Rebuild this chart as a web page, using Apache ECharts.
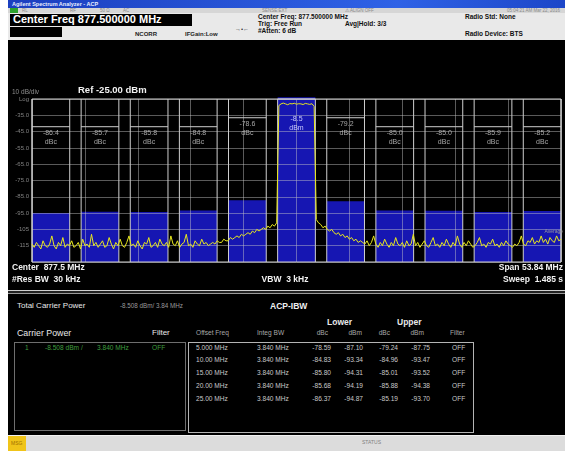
<!DOCTYPE html>
<html>
<head>
<meta charset="utf-8">
<script src="https://cdn.jsdelivr.net/npm/echarts@6/dist/echarts.min.js"></script>
<style>
  body { margin: 0; width: 565px; height: 451px; background: #fff; overflow: hidden; position: relative;
         font-family: "Liberation Sans", Arial, sans-serif; }
  .a { position: absolute; white-space: nowrap; line-height: 1; }
  #title { left: 8px; top: 0; width: 557px; height: 8px; background: linear-gradient(90deg, #1b3fbf, #2f62e6 70%, #1c46c8); }
  #stat { left: 8px; top: 8px; width: 557px; height: 5px; background: #d6d6d6; }
  #head { left: 8px; top: 13px; width: 557px; height: 27px; background: #e9e9e9; border-bottom: 1px solid #555; }
  #spec { left: 8px; top: 40px; width: 557px; height: 250px; background: #000; }
  #sep { left: 8px; top: 290px; width: 557px; height: 2px; border-top: 1px solid #cfcfcf; border-bottom: 1px solid #9a9a9a; background: #222; }
  #low { left: 8px; top: 294px; width: 557px; height: 141px; background: #000; }
  #bar { left: 8px; top: 435px; width: 557px; height: 16px; background: #dcdcdc; border-top: 1px solid #f2f2f2; }
</style>
</head>
<body>
<div id="title" class="a"></div>
<div id="stat" class="a"></div>
<div id="head" class="a"></div>
<div id="spec" class="a"></div>
<div id="sep" class="a"></div>
<div id="low" class="a"></div>
<div id="bar" class="a"></div>
<div id="txt"></div>
<script>
// ── readings ──────────────────────────────────────────────────────────
const SPAN = 53.84;                 // MHz, centre 877.5
const INTEG_BW = 3.84;              // MHz
const chanOffsets = [-25, -20, -15, -10, -5, 0, 5, 10, 15, 20, 25];
const chanPower   = [-94.87, -94.19, -94.31, -93.34, -87.10, -8.508, -87.75, -93.47, -93.52, -94.38, -93.70];
const chanLimit   = [-42, -42, -42, -42, -36.5, -25, -36.5, -42, -42, -42, -42];
const chanLabel   = ["-86.4", "-85.7", "-85.8", "-84.8", "-78.6", "-8.5", "-79.2", "-85.0", "-85.0", "-85.9", "-85.2"];
const chanUnit    = ["dBc", "dBc", "dBc", "dBc", "dBc", "dBm", "dBc", "dBc", "dBc", "dBc", "dBc"];

// yellow trace, dBm, one sample per sweep step from left edge to right edge
const traceDbm = [
  -114,-116,-113,-115,-117,-112,-115,-116,-114,-109,-115,-117,-113,-115,-110,-116,-114,-115,-112,-116,-115,
  -113,-117,-111,-115,-114,-116,-108,-115,-113,-116,-114,-112,-116,-115,-110,-114,-117,-113,-115,-111,
  -115,-116,-113,-109,-115,-114,-116,-112,-115,-117,-113,-114,-110,-116,-115,-113,-116,-111,-114,-115,
  -113,-116,-109,-114,-115,-112,-116,-114,-113,-108,-115,-114,-116,-112,-114,-115,-111,-114,-113,-115,
  -114,-113,-114,-112,-113,-113,-111,-112,-112,-110,-111,-110,-109,-110,-108,-109,-108,-107,-108,-106,
  -107,-105,-106,-105,-104,-105,-103,-104,-102,-103,-101,
  -29,-28,-27.5,-28,-28.5,-27.8,-28,-27.6,-28.2,-27.9,-28,-28.4,-27.7,-28,-28.3,-27.9,-29.5,
  -99,-101,-102,-104,-103,-105,-106,-105,-107,-108,-107,-109,-108,-110,-109,-111,-110,-112,-111,-113,-112,-113,
  -114,-112,-115,-113,-109,-114,-116,-113,-115,-111,-114,-116,-113,-115,-110,-114,-115,-113,-116,-112,
  -115,-114,-108,-115,-113,-116,-114,-112,-115,-116,-113,-110,-115,-114,-116,-113,-115,-111,-114,-116,
  -113,-115,-109,-114,-116,-113,-115,-112,-114,-116,-115,-113,-110,-115,-114,-116,-113,-114,-111,-115,
  -114,-116,-113,-115,-112,-114,-115,-116,-114,-115,-113,-109,-114,-115,-112,-113,-110,-114,-112,-113,
  -109,-113,-111,-114,-110,-112,-113,-109,-112,-111
];

// ACP table
const offsetFreq = ["5.000 MHz", "10.00 MHz", "15.00 MHz", "20.00 MHz", "25.00 MHz"];
const integBw    = ["3.840 MHz", "3.840 MHz", "3.840 MHz", "3.840 MHz", "3.840 MHz"];
const lowerDbc   = ["-78.59", "-84.83", "-85.80", "-85.68", "-86.37"];
const lowerDbm   = ["-87.10", "-93.34", "-94.31", "-94.19", "-94.87"];
const upperDbc   = ["-79.24", "-84.96", "-85.01", "-85.88", "-85.19"];
const upperDbm   = ["-87.75", "-93.47", "-93.52", "-94.38", "-93.70"];
const filterCol  = ["OFF", "OFF", "OFF", "OFF", "OFF"];

// ── text layer ────────────────────────────────────────────────────────
const host = document.getElementById("txt");
function put(txt, x, y, size, color, opt = {}) {
  const d = document.createElement("div");
  d.className = "a";
  d.textContent = txt;
  d.style.top = y + "px";
  d.style.fontSize = size + "px";
  d.style.color = color;
  if (opt.bold) d.style.fontWeight = "bold";
  if (opt.right) d.style.right = (565 - x) + "px"; else d.style.left = x + "px";
  if (opt.bg) { d.style.background = opt.bg; d.style.padding = opt.pad || "0"; }
  host.appendChild(d);
  return d;
}

// window title + status strip
put("Agilent Spectrum Analyzer - ACP", 12, 1.5, 5.5, "#e8eeff", { bold: true });
put("", 10, 8, 5, "#fff", { bg: "#2ea12e", pad: "2.5px 4px" });
put("RL", 22, 8.5, 4.5, "#8a8a8a");
put("RF", 70, 8.5, 4.5, "#8a8a8a");
put("50 Ω", 100, 8.5, 4.5, "#8a8a8a");
put("AC", 123, 8.5, 4.5, "#8a8a8a");
put("SENSE:EXT", 262, 8.5, 4.5, "#8a8a8a");
put("⚠ ALIGN OFF", 345, 8.5, 4.5, "#8a8a8a");
put("05:04:21 AM Mar 22, 2016", 560, 8.5, 4.5, "#8a8a8a", { right: true });

// header
put("Center Freq 877.500000 MHz", 10, 13.5, 11, "#fff", { bold: true, bg: "#000", pad: "0.5px 30px 0.5px 3px" });
put("", 10, 27, 5, "#000", { bg: "#000", pad: "5px 26px" });
put("NCORR", 135, 31, 6, "#222", { bold: true });
put("IFGain:Low", 185, 31, 6, "#222", { bold: true });
put("→•←", 235, 26, 6, "#333");
put("Center Freq: 877.500000 MHz", 258, 13.5, 6.5, "#111", { bold: true });
put("Trig: Free Run", 258, 20.5, 6.5, "#111", { bold: true });
put("#Atten: 6 dB", 258, 27.5, 6.5, "#111", { bold: true });
put("Avg|Hold: 3/3", 345, 20.5, 6.5, "#111", { bold: true });
put("Radio Std: None", 465, 13.5, 6.5, "#111", { bold: true });
put("Radio Device: BTS", 465, 30.5, 6.5, "#111", { bold: true });

// lower results panel
put("Total Carrier Power", 17, 302, 8, "#e8e8e8");
put("-8.508 dBm/ 3.84 MHz", 120, 302.5, 6.3, "#9a9a9a");
put("ACP-IBW", 270, 302, 8.5, "#f0f0f0", { bold: true });
put("Carrier Power", 17, 329, 8.8, "#e8e8e8");
put("Filter", 152, 329, 8, "#e8e8e8");
put("Lower", 327, 318, 8.5, "#e8e8e8", { bold: true });
put("Upper", 397, 318, 8.5, "#e8e8e8", { bold: true });
put("Offset Freq", 196, 330, 6.6, "#a8a8a8");
put("Integ BW", 257, 330, 6.6, "#a8a8a8");
put("dBc", 328, 330, 6.6, "#a8a8a8", { right: true });
put("dBm", 362, 330, 6.6, "#a8a8a8", { right: true });
put("dBc", 390, 330, 6.6, "#a8a8a8", { right: true });
put("dBm", 424, 330, 6.6, "#a8a8a8", { right: true });
put("Filter", 450, 330, 6.6, "#a8a8a8");

const boxL = put("", 14, 342, 5, "#000");
boxL.style.width = "170px"; boxL.style.height = "87px"; boxL.style.border = "1px solid #6e6e6e";
const boxR = put("", 188, 342, 5, "#000");
boxR.style.width = "284px"; boxR.style.height = "89px"; boxR.style.border = "1px solid #b4b4b4";

put("1", 25, 345, 6.6, "#3f9f3f");
put("-8.508 dBm /", 45, 345, 6.6, "#3f9f3f");
put("3.840 MHz", 97, 345, 6.6, "#3f9f3f");
put("OFF", 152, 345, 6.6, "#3f9f3f");

offsetFreq.forEach((f, i) => {
  const y = 344.5 + i * 12.9;
  put(f, 196, y, 6.6, "#c9c9c9");
  put(integBw[i], 257, y, 6.6, "#c9c9c9");
  put(lowerDbc[i], 331, y, 6.6, "#c9c9c9", { right: true });
  put(lowerDbm[i], 363, y, 6.6, "#c9c9c9", { right: true });
  put(upperDbc[i], 398, y, 6.6, "#c9c9c9", { right: true });
  put(upperDbm[i], 430, y, 6.6, "#c9c9c9", { right: true });
  put(filterCol[i], 452, y, 6.6, "#c9c9c9");
});

// status bar
put("MSG", 8, 436, 5, "#a07000", { bg: "#f0c419", pad: "5px 4px 5px 3px" });
put("STATUS", 362, 440, 5, "#808080");

// ── spectrum display ──────────────────────────────────────────────────
const chart = echarts.init(document.getElementById("spec"), null, { renderer: "canvas" });
const half = SPAN / 2;
const traceIdx = traceDbm.map((_, i) => i);
const chanData = chanOffsets.map((c, i) => [c - INTEG_BW / 2, c + INTEG_BW / 2, chanPower[i], chanLimit[i], i]);

const gridClr = "rgba(200,200,200,0.45)";
const edgeClr = "#cfcfcf";
const lblFont = '7px "Liberation Sans", Arial, sans-serif';

function renderChan(params, api) {
  const lo = api.value(0), hi = api.value(1), pw = api.value(2), lim = api.value(3), i = api.value(4);
  const tl = api.coord([lo, -25]);
  const br = api.coord([hi, -125]);
  const pt = api.coord([lo, Math.min(pw, -24)]);
  const ly = api.coord([lo, lim])[1];
  const cx = (tl[0] + br[0]) / 2;
  const isCarrier = chanOffsets[i] === 0;
  const labY = isCarrier ? api.coord([lo, -35])[1] : ly + 3;
  return {
    type: "group",
    children: [
      { type: "rect", shape: { x: tl[0], y: pt[1], width: br[0] - tl[0], height: br[1] - pt[1] },
        style: { fill: "#1616b2" } },
      { type: "line", shape: { x1: tl[0], y1: tl[1], x2: tl[0], y2: br[1] }, style: { stroke: edgeClr, lineWidth: 1 } },
      { type: "line", shape: { x1: br[0], y1: tl[1], x2: br[0], y2: br[1] }, style: { stroke: edgeClr, lineWidth: 1 } },
      { type: "line", shape: { x1: tl[0], y1: ly, x2: br[0], y2: ly }, style: { stroke: edgeClr, lineWidth: 1 } },
      { type: "text", style: { text: chanLabel[i], x: cx, y: labY, align: "center", verticalAlign: "top",
        fill: isCarrier ? "#c8c8ff" : "#a6a6a6", font: lblFont } },
      { type: "text", style: { text: chanUnit[i], x: cx, y: labY + 9, align: "center", verticalAlign: "top",
        fill: isCarrier ? "#c8c8ff" : "#a6a6a6", font: lblFont } },
    ],
  };
}

const txtStyle = (text, x, y, size, color, bold, align) => ({
  type: "text", x, y, z: 10,
  style: { text, fill: color, font: `${bold ? "bold " : ""}${size}px "Liberation Sans", Arial, sans-serif`,
           textAlign: align || "left", textVerticalAlign: "middle" },
});

chart.setOption({
  backgroundColor: "#000",
  animation: false,
  grid: { left: 24, right: 4, top: 59, height: 163, show: true, borderColor: "#d0d0d0", borderWidth: 1,
          backgroundColor: "transparent", z: 6 },
  xAxis: [
    { type: "value", min: -half, max: half, interval: SPAN / 10, z: 4,
      axisLabel: { show: false }, axisTick: { show: false }, axisLine: { show: false },
      splitLine: { lineStyle: { color: gridClr, width: 1 } } },
    { type: "category", data: traceIdx, boundaryGap: false, show: false },
  ],
  yAxis: {
    type: "value", min: -125, max: -25, interval: 10, z: 4,
    axisLine: { show: false }, axisTick: { show: false },
    axisLabel: { color: "#828282", fontSize: 6, margin: 3, fontFamily: "Liberation Sans",
      formatter: v => v === -25 ? "Log" : v === -125 ? "" : (v > -100 ? v.toFixed(1) : String(v)) },
    splitLine: { lineStyle: { color: gridClr, width: 1 } },
  },
  series: [
    { type: "custom", xAxisIndex: 0, yAxisIndex: 0, data: chanData, renderItem: renderChan, clip: false, z: 2, silent: true },
    { type: "line", xAxisIndex: 1, yAxisIndex: 0, data: traceDbm, symbol: "none", z: 6, silent: true,
      lineStyle: { color: "#e8e81e", width: 1 } },
  ],
  graphic: [
    txtStyle("10 dB/div", 4, 52, 6.5, "#8c8c8c"),
    txtStyle("Ref -25.00 dBm", 70, 50, 9.5, "#f2f2f2", true),
    txtStyle("Average", 555, 192, 5, "#9a9a9a", false, "right"),
    txtStyle("Center  877.5 MHz", 4, 228, 8.5, "#f2f2f2", true),
    txtStyle("#Res BW  30 kHz", 4, 240, 8.5, "#f2f2f2", true),
    txtStyle("VBW  3 kHz", 277, 240, 8.5, "#f2f2f2", true, "center"),
    txtStyle("Span 53.84 MHz", 555, 228, 8.5, "#f2f2f2", true, "right"),
    txtStyle("Sweep  1.485 s", 555, 240, 8.5, "#f2f2f2", true, "right"),
  ],
});
</script>
</body>
</html>
